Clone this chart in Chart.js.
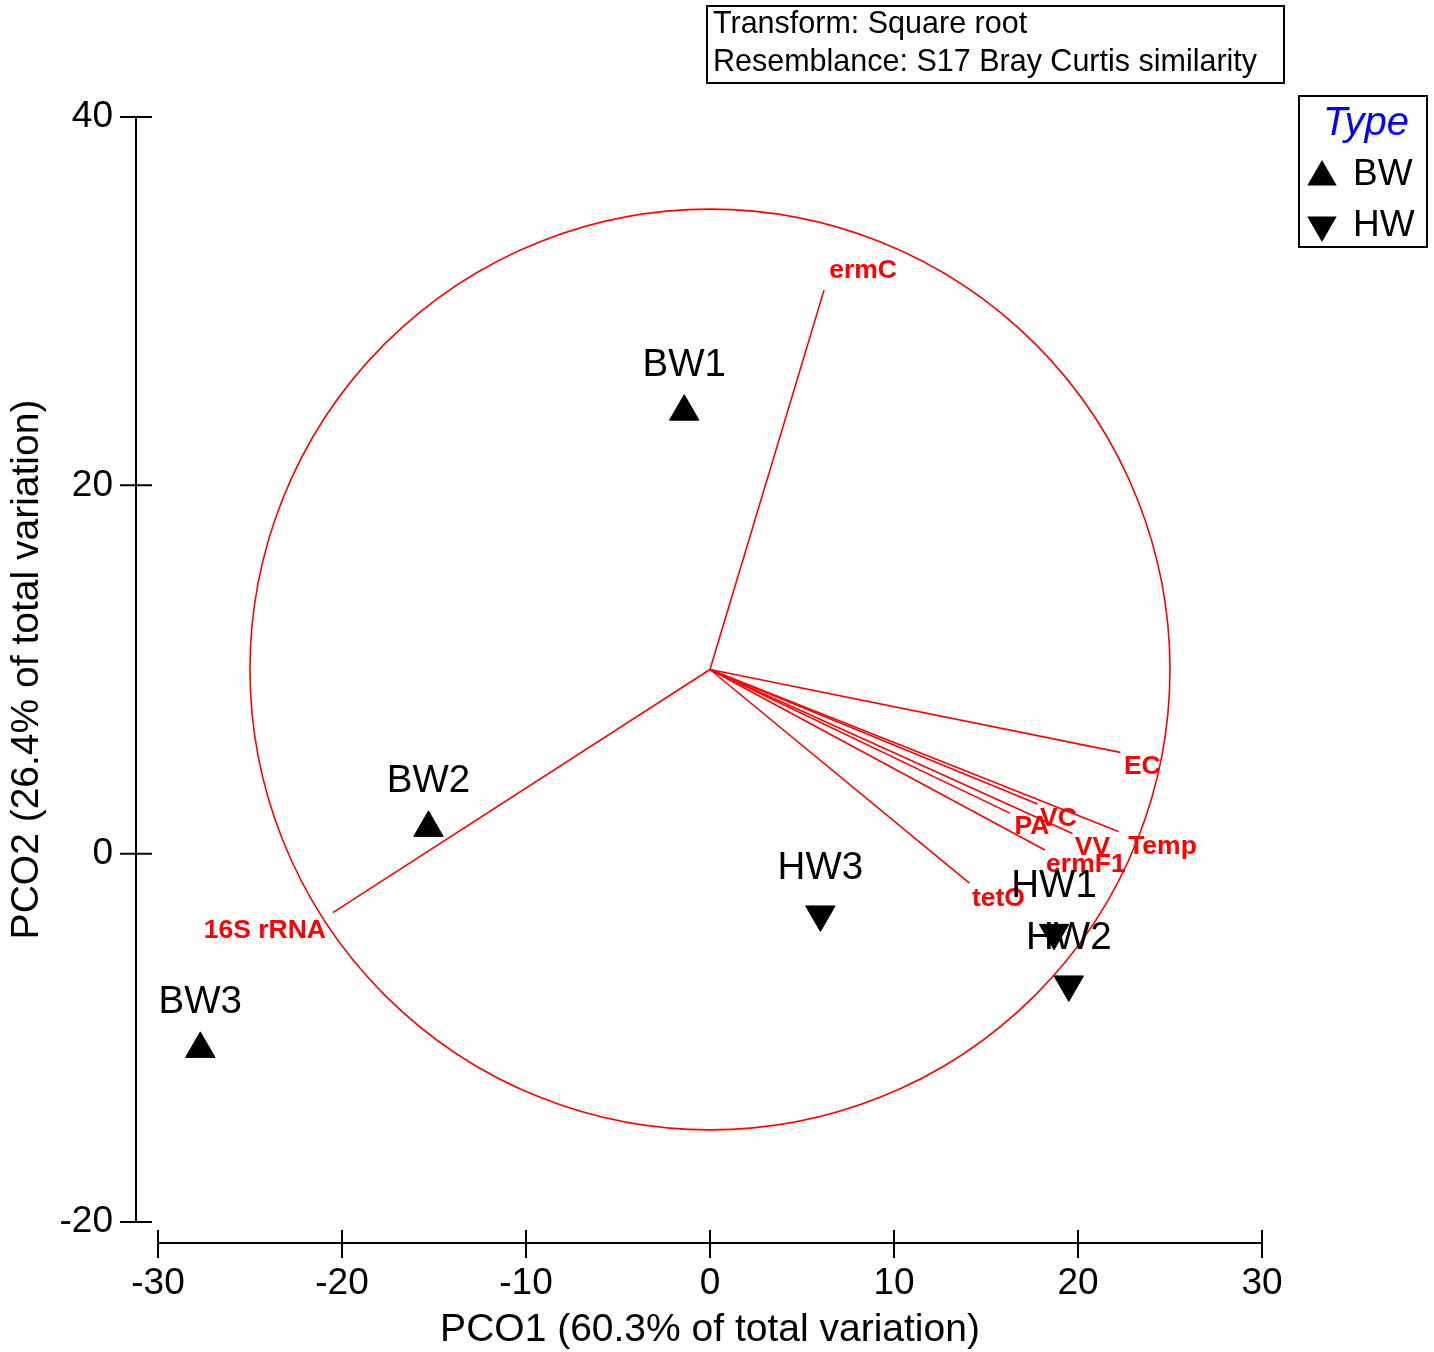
<!DOCTYPE html>
<html>
<head>
<meta charset="utf-8">
<script src="https://cdn.jsdelivr.net/npm/chart.js@4.4.1/dist/chart.umd.min.js"></script>
<style>
  html, body { margin: 0; padding: 0; background: #ffffff; }
  #wrap { position: relative; width: 1434px; height: 1352px; }
</style>
</head>
<body>
<div id="wrap"><canvas id="pco"></canvas></div>
<script>
const FONT = '"Liberation Sans", Arial, Helvetica, sans-serif';
const RED = '#ff0000';

// Sample scores on the first two principal coordinates
const sampleNames = ['BW1', 'BW2', 'BW3', 'HW1', 'HW2', 'HW3'];
const sampleType  = ['BW',  'BW',  'BW',  'HW',  'HW',  'HW'];
const pco1 = [-1.4, -15.3, -27.7, 18.7, 19.5, 6.0];
const pco2 = [24.0,   1.4, -10.6, -4.3, -7.1, -3.3];

// Variable vectors (origin, end points) and the unit circle radius, in axis units
const vectorOrigin = [0, 10];
const vectorNames = ['ermC', '16S rRNA', 'EC', 'Temp', 'VC', 'PA', 'VV', 'ermF1', 'tetO'];
const vectorEndX  = [6.2, -20.5, 22.3, 22.2, 17.8, 16.3, 19.7, 18.2, 14.1];
const vectorEndY  = [30.6, -3.2,  5.5,  1.2,  2.7,  2.2,  1.1,  0.2, -1.6];
const circleRadius = 25;

// Axis ticks
const xTicks = [-30, -20, -10, 0, 10, 20, 30];
const yTicks = [-20, 0, 20, 40];

const typeNames = ['BW', 'HW'];
const infoLines = ['Transform: Square root', 'Resemblance: S17 Bray Curtis similarity'];

// Label placement for the vector names (pixel offset of text centre from the vector tip)
const vectorLabelOffset = {
  'ermC': [39, -19], '16S rRNA': [-68, 18], 'EC': [22, 14], 'Temp': [44, 15],
  'VC': [21, 15], 'PA': [22, 14], 'VV': [20, 14], 'ermF1': [41, 15], 'tetO': [29, 16]
};

function samplesOf(type) {
  const pts = [];
  sampleNames.forEach((n, i) => {
    if (sampleType[i] === type) pts.push({ x: pco1[i], y: pco2[i], name: n });
  });
  return pts;
}

const vectorSets = vectorNames.map((n, i) => ({
  label: n,
  data: [{ x: vectorOrigin[0], y: vectorOrigin[1] }, { x: vectorEndX[i], y: vectorEndY[i] }],
  showLine: true,
  borderColor: RED,
  borderWidth: 1.6,
  pointRadius: 0,
  order: 2
}));

const sampleSets = typeNames.map((t) => ({
  label: t,
  data: samplesOf(t),
  pointStyle: 'triangle',
  rotation: t === 'HW' ? 180 : 0,
  pointRadius: 17,
  backgroundColor: '#000',
  borderColor: '#000',
  borderWidth: 1,
  order: 0
}));

function drawTriangle(ctx, x, y, r, down) {
  ctx.beginPath();
  for (let k = 0; k < 3; k++) {
    const a = (down ? Math.PI : 0) + k * 2 * Math.PI / 3;
    const px = x + Math.sin(a) * r, py = y - Math.cos(a) * r;
    if (k === 0) ctx.moveTo(px, py); else ctx.lineTo(px, py);
  }
  ctx.closePath();
  ctx.fill();
}

const ordinationDecor = {
  id: 'ordinationDecor',
  beforeDatasetsDraw(chart) {
    const { ctx, scales: { x, y } } = chart;
    const cx = x.getPixelForValue(vectorOrigin[0]);
    const cy = y.getPixelForValue(vectorOrigin[1]);
    const rx = x.getPixelForValue(vectorOrigin[0] + circleRadius) - cx;
    const ry = cy - y.getPixelForValue(vectorOrigin[1] + circleRadius);
    ctx.save();
    ctx.strokeStyle = RED;
    ctx.lineWidth = 1.6;
    ctx.beginPath();
    ctx.ellipse(cx, cy, rx, ry, 0, 0, Math.PI * 2);
    ctx.stroke();
    ctx.restore();
  },
  afterDatasetsDraw(chart) {
    const { ctx, scales: { x, y }, chartArea } = chart;
    ctx.save();

    // axis lines with tick marks, set slightly apart from the plotting region
    ctx.strokeStyle = '#000';
    ctx.lineWidth = 2;
    const ax = chartArea.left - 22;
    const ay = chartArea.bottom + 21;
    ctx.beginPath();
    ctx.moveTo(ax, y.getPixelForValue(yTicks[0]));
    ctx.lineTo(ax, y.getPixelForValue(yTicks[yTicks.length - 1]));
    yTicks.forEach(v => {
      const py = y.getPixelForValue(v);
      ctx.moveTo(ax - 16, py);
      ctx.lineTo(ax + 16, py);
    });
    ctx.moveTo(x.getPixelForValue(xTicks[0]), ay);
    ctx.lineTo(x.getPixelForValue(xTicks[xTicks.length - 1]), ay);
    xTicks.forEach(v => {
      const px = x.getPixelForValue(v);
      ctx.moveTo(px, ay - 13);
      ctx.lineTo(px, ay + 15);
    });
    ctx.stroke();

    // vector names
    ctx.fillStyle = RED;
    ctx.font = 'bold 26.5px ' + FONT;
    ctx.textAlign = 'center';
    ctx.textBaseline = 'middle';
    vectorNames.forEach((n, i) => {
      const off = vectorLabelOffset[n];
      ctx.fillText(n, x.getPixelForValue(vectorEndX[i]) + off[0], y.getPixelForValue(vectorEndY[i]) + off[1]);
    });

    // sample names above their symbols
    ctx.fillStyle = '#000';
    ctx.font = '38.5px ' + FONT;
    sampleNames.forEach((n, i) => {
      ctx.fillText(n, x.getPixelForValue(pco1[i]), y.getPixelForValue(pco2[i]) - 46);
    });

    // legend box
    ctx.lineWidth = 2;
    ctx.strokeRect(1299, 96, 128, 151);
    ctx.fillStyle = '#0000ff';
    ctx.font = 'italic 40px ' + FONT;
    ctx.fillText('Type', 1366, 124);
    ctx.fillStyle = '#000';
    ctx.font = '37px ' + FONT;
    ctx.textAlign = 'left';
    typeNames.forEach((t, i) => {
      const cyL = 175 + i * 51;
      drawTriangle(ctx, 1322, i === 0 ? 177 : 225, 17, i === 1);
      ctx.fillText(t, 1353, cyL);
    });

    // transformation / resemblance note
    ctx.strokeRect(707, 6, 577, 77);
    ctx.font = '30.5px ' + FONT;
    ctx.fillText(infoLines[0], 713, 25);
    ctx.fillText(infoLines[1], 713, 63);
    ctx.restore();
  }
};

new Chart(document.getElementById('pco'), {
  type: 'scatter',
  data: { datasets: [...sampleSets, ...vectorSets] },
  options: {
    responsive: true,
    maintainAspectRatio: false,
    animation: false,
    layout: { padding: { left: 0, right: 172, top: 117, bottom: 0 } },
    plugins: { legend: { display: false }, tooltip: { enabled: false } },
    scales: {
      x: {
        type: 'linear',
        min: xTicks[0],
        max: xTicks[xTicks.length - 1],
        afterFit(scale) { scale.height = 130; },
        afterBuildTicks(scale) { scale.ticks = xTicks.map(v => ({ value: v })); },
        grid: { display: false },
        border: { display: false },
        ticks: { color: '#000', font: { family: FONT, size: 37 }, padding: 32, maxRotation: 0 },
        title: {
          display: true,
          text: 'PCO1 (60.3% of total variation)',
          color: '#000',
          font: { family: FONT, size: 39 },
          padding: { top: 0, bottom: -2 }
        }
      },
      y: {
        type: 'linear',
        min: yTicks[0],
        max: yTicks[yTicks.length - 1],
        afterFit(scale) { scale.width = 158; },
        afterBuildTicks(scale) { scale.ticks = yTicks.map(v => ({ value: v })); },
        grid: { display: false },
        border: { display: false },
        ticks: { color: '#000', font: { family: FONT, size: 37 }, padding: 37 },
        title: {
          display: true,
          text: 'PCO2 (26.4% of total variation)',
          color: '#000',
          font: { family: FONT, size: 39 },
          padding: { top: 4, bottom: 0 }
        }
      }
    }
  },
  plugins: [ordinationDecor]
});
</script>
</body>
</html>
